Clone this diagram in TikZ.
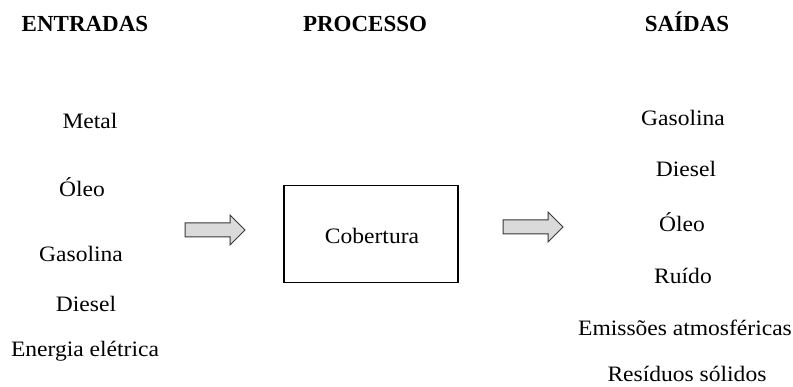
\documentclass[tikz,border=0pt]{standalone}
\usepackage{fontspec}
\setmainfont{Liberation Serif}[FakeStretch=1.07]
\newfontfamily\titlefont{Liberation Serif}
\usetikzlibrary{positioning}
\definecolor{ArrowFill}{HTML}{DADADA}
\definecolor{ArrowEdge}{HTML}{383838}

\begin{document}
\begin{tikzpicture}[x=1pt,y=-1pt,
  every node/.style={font=\fontsize{22}{24}\selectfont,anchor=base,inner sep=0pt},
  heading/.style={font=\titlefont\fontsize{23}{26}\selectfont\bfseries},
  flowarrow/.style={draw=ArrowEdge,fill=ArrowFill,line width=1pt,line join=miter}]
\useasboundingbox (0,0) rectangle (793,387);
% column titles
\node[heading] (entradas) at (85,32) {ENTRADAS};
\node[heading] (processo) at (365,32) {PROCESSO};
\node[heading] (saidas) at (687,32) {SAÍDAS};
% inputs
\node (inMetal) at (90,129) {Metal};
\node (inOleo) at (82,197) {Óleo};
\node (inGasolina) at (81,262) {Gasolina};
\node (inDiesel) at (86,312) {Diesel};
\node (inEnergia) at (85,357) {Energia elétrica};
% process
\node[draw,line width=1.2pt,anchor=center,minimum width=174pt,minimum height=97pt] (box) at (371,234) {};
\node (cobertura) at (372,244) {Cobertura};
% outputs
\node (outGasolina) at (683,126) {Gasolina};
\node (outDiesel) at (686,177) {Diesel};
\node (outOleo) at (682,232) {Óleo};
\node (outRuido) at (683,284) {Ruído};
\node (outEmissoes) at (685,336) {Emissões atmosféricas};
\node (outResiduos) at (687,382) {Resíduos sólidos};
% block arrows
\coordinate (inArrow) at (185,230);
\coordinate (outArrow) at (503,227);
\foreach \a in {inArrow,outArrow}
  \draw[flowarrow] (\a) ++(0,-7) -- ++(45,0) -- ++(0,-8) -- ++(15,15)
    -- ++(-15,15) -- ++(0,-8) -- ++(-45,0) -- cycle;
\end{tikzpicture}
\end{document}
